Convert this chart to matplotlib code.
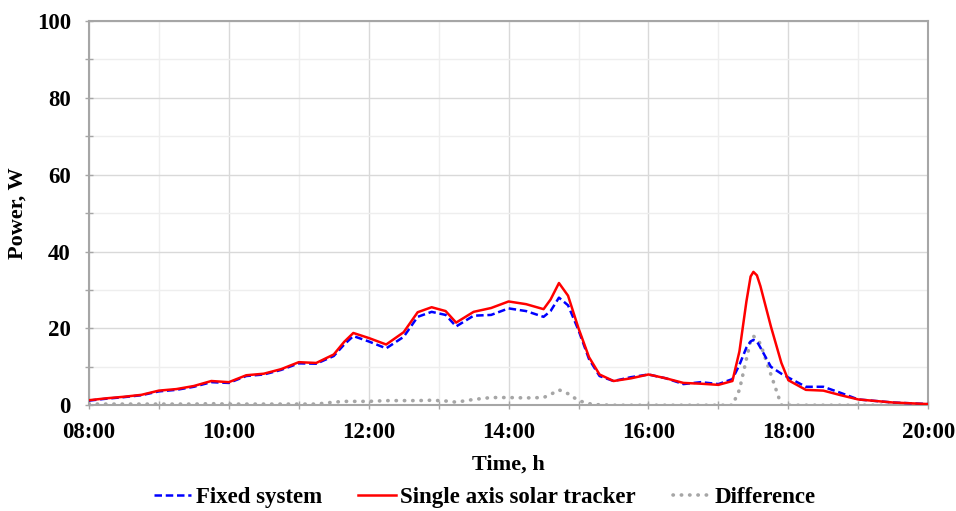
import matplotlib
import matplotlib.pyplot as plt
from matplotlib.ticker import MultipleLocator, FuncFormatter

matplotlib.use('Agg')

# time in hours
hours = [8.0, 8.25, 8.5, 8.75, 9.0, 9.25, 9.5, 9.75, 10.0, 10.25, 10.5, 10.75,
         11.0, 11.25, 11.5, 11.65, 11.78, 12.0, 12.25, 12.5, 12.7, 12.9, 13.1,
         13.25, 13.5, 13.75, 14.0, 14.25, 14.5, 14.6, 14.72, 14.85, 15.0, 15.15,
         15.3, 15.5, 15.75, 16.0, 16.25, 16.5, 16.75, 17.0, 17.2, 17.3, 17.4,
         17.46, 17.5, 17.55, 17.6, 17.75, 17.9, 18.0, 18.25, 18.5, 18.75, 19.0,
         19.5, 20.0]

tracker = [1.3, 1.8, 2.2, 2.7, 3.8, 4.2, 5.0, 6.3, 6.0, 7.8, 8.2, 9.4,
           11.2, 11.0, 13.2, 16.5, 18.8, 17.5, 15.8, 19.0, 24.2, 25.5, 24.5,
           21.5, 24.3, 25.3, 27.0, 26.3, 25.0, 27.5, 31.8, 28.5, 20.0, 12.5,
           8.0, 6.3, 7.0, 8.0, 7.0, 5.8, 5.6, 5.3, 6.3, 14.0, 27.0,
           33.5, 34.7, 33.8, 31.0, 20.5, 11.0, 6.5, 4.0, 3.8, 2.6, 1.5,
           0.7, 0.3]

fixed = [1.2, 1.7, 2.1, 2.6, 3.6, 4.0, 4.8, 6.0, 5.8, 7.6, 8.0, 9.2,
         10.9, 10.8, 12.8, 15.8, 18.0, 16.6, 14.8, 17.8, 23.0, 24.3, 23.5,
         20.5, 23.3, 23.5, 25.2, 24.5, 23.0, 24.5, 28.0, 26.0, 19.5, 12.0,
         7.6, 6.3, 7.3, 8.0, 7.0, 5.5, 6.0, 5.5, 6.8, 10.5, 15.0,
         16.6, 17.0, 16.6, 15.0, 10.0, 8.2, 7.2, 4.8, 4.8, 3.2, 1.5,
         0.7, 0.3]

difference = [0.3, 0.3, 0.3, 0.3, 0.3, 0.3, 0.3, 0.4, 0.3, 0.3, 0.3, 0.3,
              0.3, 0.3, 0.8, 1.0, 1.0, 1.0, 1.2, 1.2, 1.2, 1.3, 1.1,
              0.8, 1.5, 2.0, 2.0, 1.9, 2.0, 2.8, 4.0, 3.0, 1.2, 0.4,
              0.1, 0.0, 0.0, 0.0, 0.0, 0.0, 0.0, 0.0, 0.0, 4.0, 12.0,
              16.8, 18.0, 17.2, 16.0, 8.0, 0.0, 0.0, 0.0, 0.0, 0.0, 0.0,
              0.0, 0.0]

FONT = 'Liberation Serif'
FS = 16.5
AXIS_GREY = '#a6a6a6'

plt.rcParams.update({
    'font.family': FONT,
    'font.weight': 'bold',
    'font.size': FS,
})

fig, ax = plt.subplots(figsize=(9.56, 5.11), dpi=100)
fig.subplots_adjust(left=0.093, right=0.971, top=0.959, bottom=0.207)

ax.plot(hours, fixed, color='#0000ff', lw=1.8, ls=(0, (3, 1.5)),
        label='Fixed system', zorder=3)
ax.plot(hours, tracker, color='#ff0000', lw=1.8, label='Single axis solar tracker',
        zorder=4, solid_joinstyle='round')
ax.plot(hours, difference, color='#a6a6a6', lw=2.6, ls=(0, (0.1, 2.2)),
        dash_capstyle='round', label='Difference', zorder=2)

ax.set_xlim(8, 20)
ax.set_ylim(0, 100)
ax.xaxis.set_major_locator(MultipleLocator(2))
ax.xaxis.set_minor_locator(MultipleLocator(1))
ax.yaxis.set_major_locator(MultipleLocator(20))
ax.yaxis.set_minor_locator(MultipleLocator(10))
ax.xaxis.set_major_formatter(FuncFormatter(lambda v, p: f'{int(v):02d}:00'))

ax.grid(which='major', color='#d9d9d9', lw=1.0)
ax.grid(which='minor', color='#eeeeee', lw=1.0)
ax.set_axisbelow(True)

for s in ax.spines.values():
    s.set_color(AXIS_GREY)
    s.set_linewidth(1.5)

ax.tick_params(which='both', direction='inout', color=AXIS_GREY, length=6, width=1)
ax.tick_params(axis='x', labelsize=FS, pad=9)
ax.tick_params(axis='y', labelsize=FS, pad=10)
for lab in ax.get_xticklabels() + ax.get_yticklabels():
    lab.set_fontweight('bold')

ax.set_xlabel('Time, h', fontsize=16, fontweight='bold', labelpad=8.5)
ax.set_ylabel('Power, W', fontsize=16, fontweight='bold')
ax.yaxis.set_label_coords(-0.0727, 0.5)

leg = fig.legend(loc='center', ncol=3, frameon=False,
                 bbox_to_anchor=(0.507, 0.026), handlelength=1.65,
                 columnspacing=1.6, handletextpad=0.18,
                 prop={'family': FONT, 'weight': 'bold', 'size': FS})

fig.savefig('out.png', dpi=100)
